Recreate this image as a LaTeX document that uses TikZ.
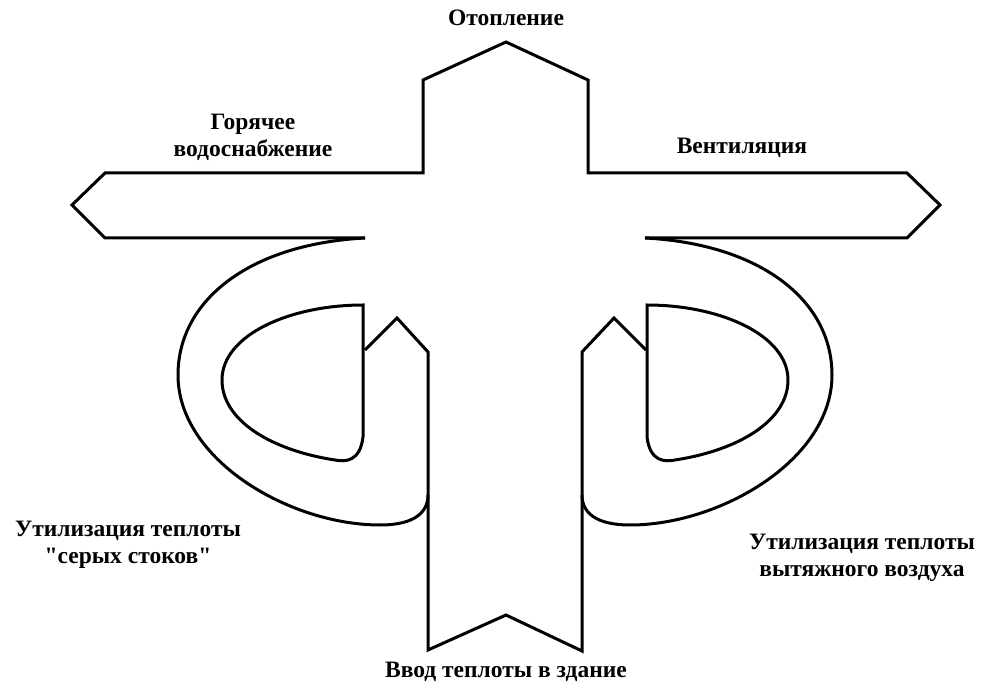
\documentclass[tikz,border=0pt]{standalone}
\usepackage{fontspec}
\setmainfont{Liberation Serif}[Ligatures=TeXOff]
\usepackage{tikz}

\tikzset{
  outline/.style={line width=3pt,black},
  lbl/.style={font=\fontsize{23.5}{27}\selectfont\bfseries,align=center,inner sep=0pt}
}

\begin{document}
\begin{tikzpicture}[x=1pt,y=-1pt]
\useasboundingbox (0,0) rectangle (986,687);
% cross with arrows
\draw[outline] (365,238) -- (105,238) -- (72,205) -- (105,173) -- (423,173)
  -- (423,80) -- (506,42) -- (588,80) -- (588,173) -- (907,173)
  -- (940,205) -- (907,238) -- (645,238);
% stem
\draw[outline] (365,350) -- (397,318) -- (428,352) -- (428,650) -- (506,615)
  -- (582,651) -- (582,352) -- (614,318) -- (646,350);
% left loop
\draw[outline] (365,238) .. controls (250,244) and (178,300) .. (178,375)
  .. controls (178,460) and (290,525) .. (380,525)
  .. controls (415,525) and (428,512) .. (428,495);
\draw[outline] (363,305) -- (363,437) .. controls (360,462) and (345,462) .. (335,460)
  .. controls (270,450) and (222,420) .. (222,380)
  .. controls (222,335) and (290,305) .. (363,305) -- cycle;
% right loop
\draw[outline] (645,238) .. controls (760,244) and (832,300) .. (832,375)
  .. controls (832,460) and (720,525) .. (630,525)
  .. controls (595,525) and (582,512) .. (582,495);
\draw[outline] (647,305) -- (647,437) .. controls (650,462) and (665,462) .. (675,460)
  .. controls (740,450) and (788,420) .. (788,380)
  .. controls (788,335) and (720,305) .. (647,305) -- cycle;
% labels
\node[lbl] (lblHeat) at (506,18) {Отопление};
\node[lbl] (lblHotWater) at (253,137) {Горячее\\водоснабжение};
\node[lbl] (lblVent) at (742,148) {Вентиляция};
\node[lbl] (lblGrey) at (128,545) {Утилизация теплоты\\"серых стоков"};
\node[lbl] (lblExhaust) at (862,558) {Утилизация теплоты\\вытяжного воздуха};
\node[lbl] (lblInput) at (506,672) {Ввод теплоты в здание};
\end{tikzpicture}
\end{document}
